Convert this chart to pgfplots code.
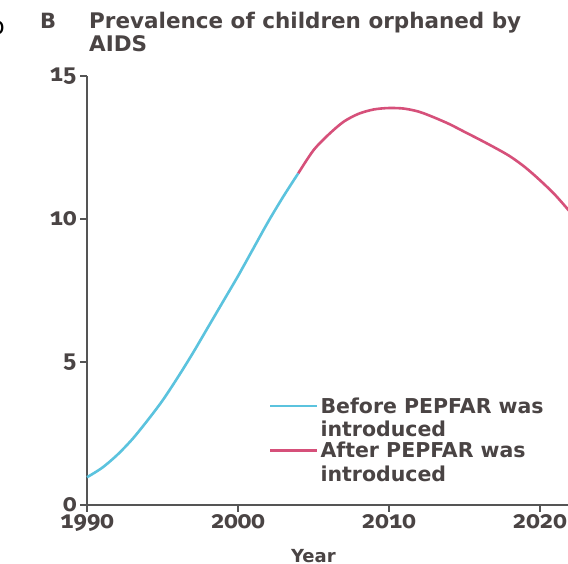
\documentclass[border=0pt]{standalone}
\usepackage{fontspec}
\setmainfont{DejaVu Sans}
\newfontfamily\tickfont{Fira Sans}[Numbers={OldStyle,Monospaced}]
\newcommand{\tl}[1]{\mbox{\tickfont\bfseries #1}}
\usepackage{pgfplots}
\pgfplotsset{compat=1.18}
\definecolor{cblue}{HTML}{5BC3DE}
\definecolor{cpink}{HTML}{D6507A}
\definecolor{axgray}{HTML}{555555}
\definecolor{txt}{HTML}{4A4444}
\begin{document}
\begin{tikzpicture}
\useasboundingbox (0pt,0pt) rectangle (568pt,564pt);
\clip (0pt,0pt) rectangle (568pt,564pt);
\fill[white] (0pt,0pt) rectangle (568pt,564pt);
\node[anchor=base west, inner sep=0pt, text=txt, font=\fontsize{21}{21}\selectfont\bfseries] at (40pt,535pt) {B};
\node[anchor=base west, inner sep=0pt, text=txt, font=\fontsize{21.5}{21}\selectfont\bfseries] at (89pt,535pt) {Prevalence of children orphaned by};
\node[anchor=base west, inner sep=0pt, text=txt, font=\fontsize{21.5}{21}\selectfont\bfseries] at (89pt,512pt) {AIDS};
\node[anchor=base west, inner sep=0pt, text=black, font=\fontsize{24}{24}\selectfont] at (-10pt,529pt) {o};
\begin{axis}[
 at={(87pt,59pt)}, anchor=south west,
 scale only axis, width=483pt, height=429pt,
 xmin=1990, xmax=2022, ymin=0, ymax=15,
 clip=false,
 axis x line*=bottom, axis y line*=left,
 axis line style={axgray, line width=1.6pt, -},
 xtick={1990,2000,2010,2020}, ytick={0,5,10,15},
 xticklabels={\tl{1990},\tl{2000},\tl{2010},\tl{2020}},
 yticklabels={\tl{0},\tl{5},\tl{10},\tl{15}},
 tick align=outside, major tick length=7pt,
 tick style={axgray, line width=1.4pt},
 tick label style={font=\fontsize{24}{24}\selectfont, text=txt},
 xticklabel style={yshift=1pt},
 legend style={at={(rel axis cs:0.37,0.26)}, anchor=north west, draw=none, fill=none,
   font=\fontsize{20.5}{23.5}\selectfont\bfseries, text=txt, cells={align=left}, row sep=0pt},
 legend cell align=left,
 legend image code/.code={\draw[#1, line width=2.6pt] (0pt,0.3em+9pt) -- (47pt,0.3em+9pt);},
]
\addplot[cblue, line width=2.6pt, smooth] coordinates {
(1990,0.97)(1991,1.3)(1992,1.75)(1993,2.3)(1994,2.95)(1995,3.65)(1996,4.45)(1997,5.3)
(1998,6.2)(1999,7.1)(2000,8.0)(2001,8.95)(2002,9.9)(2003,10.78)(2004,11.6)};
\addlegendentry{Before PEPFAR was\\introduced}
\addplot[cpink, line width=2.6pt, smooth] coordinates {
(2004,11.6)(2005,12.4)(2006,12.95)(2007,13.4)(2008,13.68)(2009,13.83)(2010,13.88)(2011,13.86)
(2012,13.75)(2013,13.55)(2014,13.32)(2015,13.05)(2016,12.78)(2017,12.5)(2018,12.2)(2019,11.82)
(2020,11.36)(2021,10.85)(2022,10.25)};
\addlegendentry{After PEPFAR was\\introduced}
\node[anchor=base, inner sep=0pt, text=txt, font=\fontsize{18}{18}\selectfont\bfseries] at (axis cs:2005,0) [yshift=-58pt] {Year};
\end{axis}
\end{tikzpicture}
\end{document}
